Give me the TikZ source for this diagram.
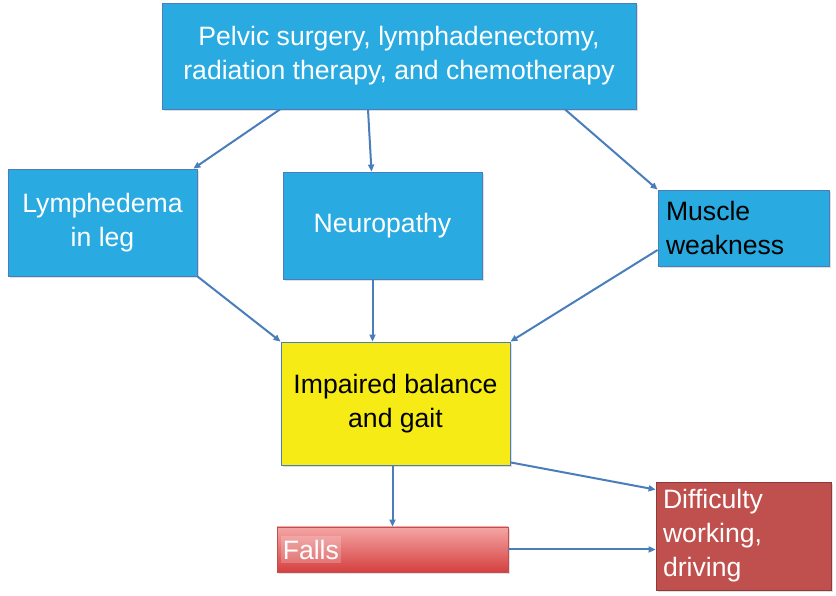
\documentclass[tikz,border=0pt]{standalone}
\usepackage{fontspec}
\setmainfont{Liberation Sans}
\usetikzlibrary{arrows.meta,shadows,positioning,calc}

\definecolor{boxblue}{HTML}{29AAE1}
\definecolor{lineblue}{HTML}{4A7EBB}
\definecolor{boxyellow}{HTML}{F6EB14}
\definecolor{darkred}{HTML}{C0504D}
\definecolor{darkredline}{HTML}{8E3A38}
\definecolor{fallstop}{HTML}{F4A6A5}
\definecolor{fallsbot}{HTML}{D4403F}

\begin{document}
\begin{tikzpicture}[x=1pt,y=1pt,>={Triangle[length=7pt,width=6pt]},
    box/.style={rectangle,draw=lineblue,line width=0.8pt,inner sep=0pt,
      font=\fontsize{26.6}{34}\selectfont,align=center,
      drop shadow={shadow xshift=2pt,shadow yshift=-2pt,opacity=0.25}},
    bluebox/.style={box,fill=boxblue,text=white},
    link/.style={->,draw=lineblue,line width=2pt}]
  \useasboundingbox (0,0) rectangle (836,596);
  % causes
  \node[bluebox,minimum width=474pt,minimum height=106pt] (treat) at (399,540)
    {Pelvic surgery, lymphadenectomy,\\radiation therapy, and chemotherapy};
  % effects
  \node[bluebox,minimum width=189pt,minimum height=107pt] (lymph) at (102.5,373.5)
    {Lymphedema\\in leg};
  \node[bluebox,minimum width=199pt,minimum height=107pt] (neuro) at (382.5,370.5)
    {Neuropathy};
  \node[bluebox,text=black,minimum width=171pt,minimum height=76pt,
    text width=155pt,align=left] (muscle) at (743.5,368)
    {Muscle\\weakness};
  % balance
  \node[box,fill=boxyellow,text=black,minimum width=229pt,minimum height=123pt]
    (balance) at (395.5,192.5) {Impaired balance\\and gait};
  % outcomes
  \node[box,draw=darkred,top color=fallstop,bottom color=fallsbot,
    minimum width=231pt,minimum height=45pt] (falls) at (392.5,46.5) {};
  \node[font=\fontsize{26.6}{34}\selectfont,text=white,fill=white,fill opacity=0.2,
    text opacity=1,inner xsep=2pt,inner ysep=4pt,anchor=west]
    (fallstext) at ([xshift=4pt]falls.west) {Falls};
  \node[box,draw=darkredline,fill=darkred,text=white,minimum width=175pt,
    minimum height=108pt,text width=161pt,align=left] (diff) at (743.5,60)
    {Difficulty\\working,\\driving};
  % arrows
  \draw[link] ([xshift=-119pt]treat.south) -- ([xshift=-4pt]lymph.north east);
  \draw[link] ([xshift=-31pt]treat.south) -- ([xshift=-11pt]neuro.north);
  \draw[link] ([xshift=166pt]treat.south) -- (muscle.north west);
  \draw[link] (lymph.south east) -- (balance.north west);
  \draw[link] ([xshift=-10pt]neuro.south) -- ([xshift=-23pt]balance.north);
  \draw[link] ([yshift=-22pt]muscle.west) -- (balance.north east);
  \draw[link] (balance.south -| falls.north) -- (falls.north);
  \draw[link] ([yshift=3pt]balance.south east) -- ([yshift=-8pt]diff.north west);
  \draw[link] (falls.east) -- (falls.east -| diff.west);
\end{tikzpicture}
\end{document}
